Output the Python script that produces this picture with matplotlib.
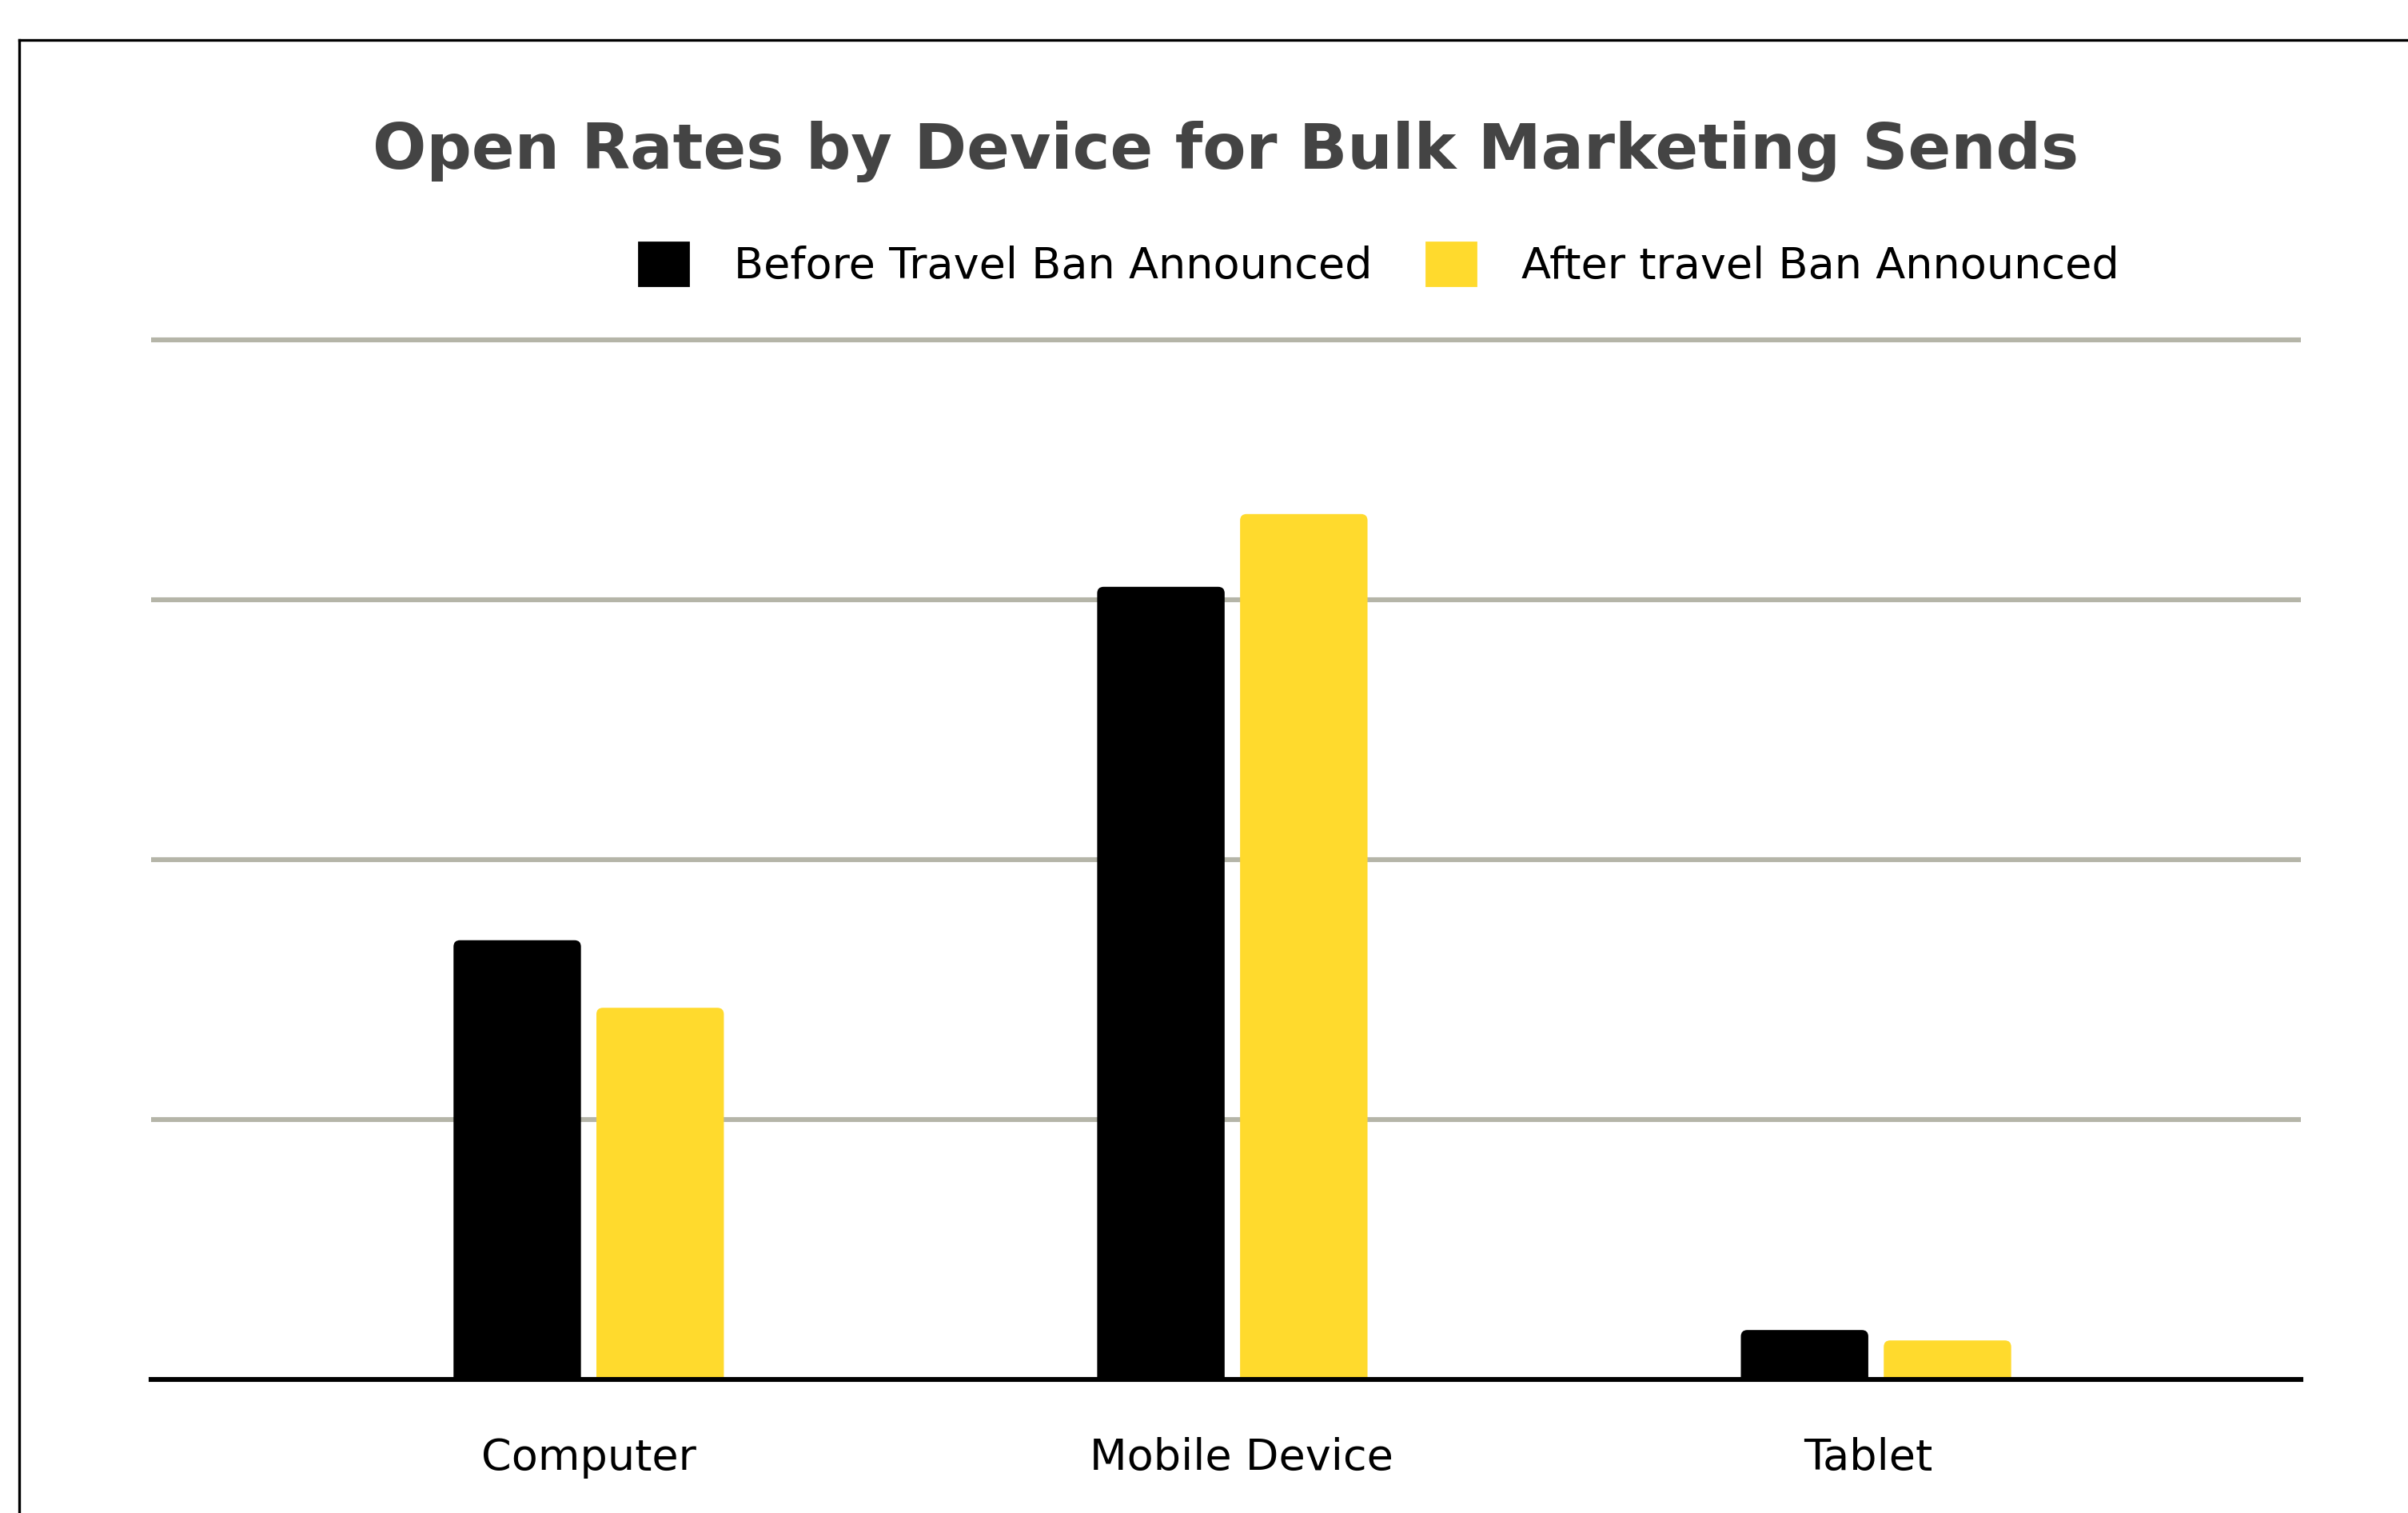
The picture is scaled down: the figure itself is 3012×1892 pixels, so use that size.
import numpy as np
import matplotlib.pyplot as plt
from matplotlib.lines import Line2D
from matplotlib.patches import Patch, FancyBboxPatch
from matplotlib.transforms import ScaledTranslation

# values (gridlines every 10)
categories = ["Computer", "Mobile Device", "Tablet"]
before = [16.9, 30.5, 1.9]
after = [14.3, 33.3, 1.5]
series_names = ["Before Travel Ban Announced", "After travel Ban Announced"]
grid_ticks = [10, 20, 30, 40]

plt.rcParams['font.family'] = ['DejaVu Sans']

black = "#000000"
yellow = "#FFDA2D"

fig = plt.figure(figsize=(15.06, 9.46), dpi=200)
ax = fig.add_axes([0.0627, 0.0883, 0.8928, 0.7042])

x = np.arange(len(categories))
w = 0.198
off = 0.111
bars1 = ax.bar(x - off, before, w, color=black)
bars2 = ax.bar(x + off, after, w, color=yellow)

ax.set_xlim(-0.68, 2.66)
ax.set_ylim(0, 41)

# swap plain bars for ones with slightly rounded tops
for bars in (bars1, bars2):
    for b in bars:
        p = FancyBboxPatch((b.get_x(), -0.5), b.get_width(), b.get_height() + 0.5,
                           boxstyle="round,pad=0,rounding_size=0.01",
                           mutation_aspect=24.8, facecolor=b.get_facecolor(),
                           edgecolor='none', zorder=2)
        ax.add_patch(p)
        b.set_visible(False)

ax.set_yticks(grid_ticks)
ax.yaxis.grid(True, color="#b5b5a8", lw=2.2)
ax.set_axisbelow(True)
ax.tick_params(axis='y', length=0, labelleft=False)
ax.set_xticks(x, categories)
ax.tick_params(axis='x', length=0, pad=26, labelsize=19.5)
shifts = [0, 0.057, -0.048]
for lab, dx in zip(ax.get_xticklabels(), shifts):
    lab.set_transform(lab.get_transform() + ScaledTranslation(dx, 0, fig.dpi_scale_trans))
for s in ['top', 'left', 'right']:
    ax.spines[s].set_visible(False)
ax.spines['bottom'].set_linewidth(2.2)
ax.spines['bottom'].set_color(black)
ax.spines['bottom'].set_zorder(3)

# title
fig.text(0.509, 0.900, "Open Rates by Device for Bulk Marketing Sends",
         ha='center', va='center', fontsize=28.5, fontweight='bold', color="#444444")

# legend
handles = [Patch(color=black), Patch(color=yellow)]
fig.legend(handles, series_names, loc='center', bbox_to_anchor=(0.5727, 0.825),
           ncol=2, frameon=False, fontsize=19.5, handlelength=1.15, handleheight=1.15,
           handletextpad=1.05, columnspacing=1.25)

# frame lines on the left and top
fig.add_artist(Line2D([0.008, 0.008], [0, 0.9736], color=black, lw=1.2))
fig.add_artist(Line2D([0.008, 1], [0.9736, 0.9736], color=black, lw=1.2))

fig.savefig("out.png", dpi=200)
